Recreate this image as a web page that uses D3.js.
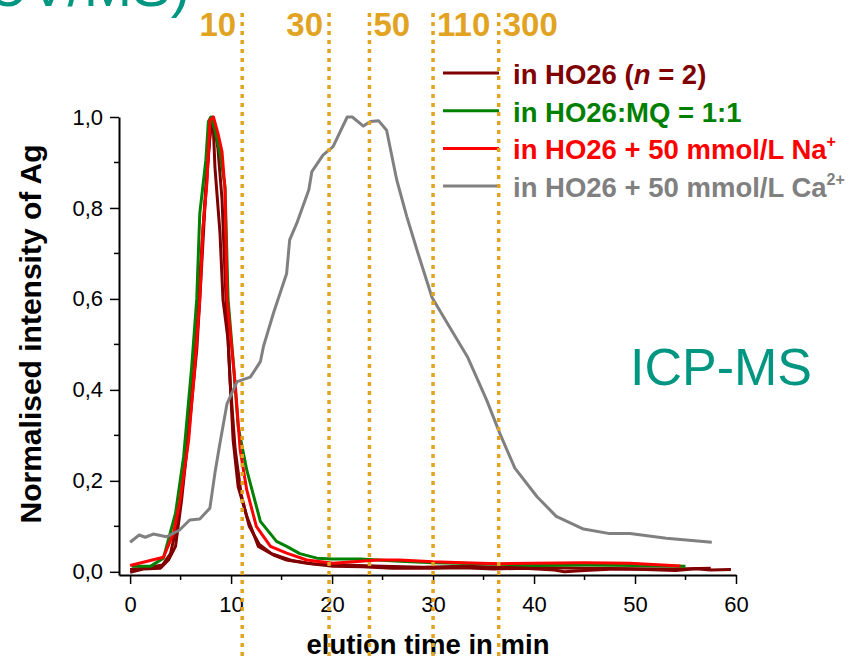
<!DOCTYPE html>
<html>
<head>
<meta charset="utf-8">
<script src="https://cdn.jsdelivr.net/npm/d3@7"></script>
<style>
body { margin: 0; background: #fff; }
text { font-family: "Liberation Sans", Arial, sans-serif; }
</style>
</head>
<body>
<div id="viz"></div>
<script>
// axis ticks
var timeTicks = [0, 10, 20, 30, 40, 50, 60];
var timeMinor = [5, 15, 25, 35, 45, 55];
var intensityTicks = [0, 0.2, 0.4, 0.6, 0.8, 1.0];
var intensityMinor = [0.1, 0.3, 0.5, 0.7, 0.9];

// size cut-off markers (kDa) at elution times
var cutoffTimes = [11.1, 19.7, 23.7, 30.0, 36.5];
var cutoffLabels = ["10", "30", "50", "110", "300"];

// series: [elution time in min, normalised intensity]
var hoRunA = [[0, -0.001], [1.3, 0.006], [3, 0.008], [3.8, 0.026], [4.5, 0.056], [5.1, 0.158], [5.8, 0.305],
  [6.6, 0.488], [6.9, 0.598], [7.4, 0.8], [7.9, 0.96], [8.2, 1.0], [8.4, 0.89], [8.9, 0.745], [9.2, 0.598],
  [9.7, 0.51], [10.2, 0.29], [10.7, 0.187], [11.55, 0.122], [12.7, 0.056], [14.2, 0.037], [15.5, 0.026],
  [17.5, 0.019], [20.1, 0.012], [23, 0.011], [26, 0.008], [30, 0.008], [33, 0.009], [36, 0.006], [39, 0.008],
  [42, 0.004], [43, 0.0], [45, 0.003], [48, 0.006], [51, 0.005], [54, 0.003], [56, 0.007], [57.5, 0.004], [59.5, 0.005]];
var hoRunB = [[0, 0.005], [1.5, 0.008], [3.2, 0.015], [4, 0.04], [4.8, 0.12], [5.5, 0.25], [6.3, 0.44],
  [7.0, 0.68], [7.6, 0.88], [8.0, 0.98], [8.3, 0.99], [8.7, 0.93], [9.1, 0.82], [9.5, 0.6], [9.9, 0.42],
  [10.4, 0.27], [11, 0.17], [11.8, 0.1], [12.8, 0.06], [14, 0.04], [16, 0.025], [18, 0.018], [21, 0.015],
  [25, 0.012], [29, 0.01], [33, 0.012], [37, 0.01], [41, 0.009], [45, 0.008], [50, 0.007], [54, 0.006], [57.5, 0.008]];
var hoMq = [[0.17, 0.012], [2.0, 0.012], [3.3, 0.03], [4.5, 0.129], [5.3, 0.253], [6.1, 0.451], [6.6, 0.6],
  [6.9, 0.788], [7.5, 0.905], [7.75, 0.99], [8.0, 1.0], [8.4, 0.971], [8.9, 0.92], [9.4, 0.847], [9.7, 0.6],
  [10.2, 0.466], [10.7, 0.319], [11.55, 0.224], [12.9, 0.111], [14.5, 0.067], [15.5, 0.056], [16.8, 0.04],
  [18.5, 0.03], [20, 0.028], [22.8, 0.028], [26.7, 0.023], [30, 0.02], [35, 0.018], [40, 0.014], [45, 0.015],
  [50, 0.014], [55, 0.012]];
var hoNa = [[0, 0.014], [3.3, 0.032], [4.3, 0.085], [4.95, 0.158], [5.8, 0.29], [6.4, 0.451], [6.9, 0.6],
  [7.2, 0.752], [7.6, 0.854], [7.9, 0.993], [8.25, 1.0], [8.7, 0.964], [9.1, 0.924], [9.4, 0.84], [9.6, 0.6],
  [10.4, 0.415], [10.9, 0.268], [11.55, 0.18], [12.5, 0.1], [13.9, 0.056], [15.5, 0.041], [17.5, 0.026],
  [20.1, 0.019], [22.8, 0.023], [24.5, 0.026], [26.7, 0.026], [30, 0.022], [33, 0.02], [36.6, 0.018],
  [40, 0.019], [45, 0.02], [49.5, 0.019], [54.5, 0.013]];
var hoCa = [[0, 0.065], [0.9, 0.081], [1.5, 0.076], [2.3, 0.083], [3.6, 0.077], [4.9, 0.092], [5.9, 0.114],
  [6.9, 0.116], [7.9, 0.14], [8.4, 0.217], [8.9, 0.283], [9.6, 0.37], [10.6, 0.418], [11.9, 0.428],
  [12.9, 0.462], [13.2, 0.495], [14.2, 0.569], [15.5, 0.656], [15.8, 0.73], [16.5, 0.766], [17.7, 0.84],
  [18.0, 0.88], [19.1, 0.916], [20.1, 0.935], [21.5, 1.0], [22.0, 1.0], [23.1, 0.98], [23.8, 0.99],
  [24.6, 0.992], [25.4, 0.971], [26.4, 0.862], [27.4, 0.781], [28.4, 0.708], [29.9, 0.603], [31.4, 0.547],
  [33.4, 0.473], [35.3, 0.378], [36.6, 0.305], [38.1, 0.228], [40.3, 0.165], [42.2, 0.122], [44.9, 0.094],
  [47.5, 0.084], [49.5, 0.084], [53.1, 0.074], [57.6, 0.065]];

var dotColor = '#e2a322';
var teal = '#009682';

var svg = d3.select('#viz').append('svg')
  .attr('width', 850)
  .attr('height', 659);

var x = d3.scaleLinear().domain([-1.1, 60]).range([119, 736]);
var y = d3.scaleLinear().domain([-0.007, 1]).range([575, 117]);

// cut off page title at the top
svg.append('text')
  .attr('x', 190).attr('y', 6)
  .attr('text-anchor', 'end')
  .attr('style', 'font-size: 58px; fill: ' + teal)
  .text('UV/MS)');

// axes
var fmt = function(d) { return d3.format('.1f')(d).replace('.', ','); };

var xAxis = svg.append('g')
  .attr('transform', 'translate(0,575)')
  .call(d3.axisBottom(x).tickValues(timeTicks).tickSize(9).tickSizeOuter(0).tickPadding(12));
var yAxis = svg.append('g')
  .attr('transform', 'translate(119,0)')
  .call(d3.axisLeft(y).tickValues(intensityTicks).tickFormat(fmt).tickSize(9).tickSizeOuter(0).tickPadding(7));

[xAxis, yAxis].forEach(function(a) {
  a.select('.domain').attr('stroke-width', 2);
  a.selectAll('.tick line').attr('stroke-width', 1.5);
  a.selectAll('.tick text').attr('style', 'font-size: 22px; font-family: "Liberation Sans", Arial, sans-serif; fill: #000');
});

svg.append('g').selectAll('line')
  .data(timeMinor).enter().append('line')
  .attr('x1', function(d) { return x(d); }).attr('x2', function(d) { return x(d); })
  .attr('y1', 575).attr('y2', 580)
  .attr('stroke', '#000').attr('stroke-width', 1.5);
svg.append('g').selectAll('line')
  .data(intensityMinor).enter().append('line')
  .attr('y1', function(d) { return y(d); }).attr('y2', function(d) { return y(d); })
  .attr('x1', 114).attr('x2', 119)
  .attr('stroke', '#000').attr('stroke-width', 1.5);

svg.append('text')
  .attr('x', 428).attr('y', 654)
  .attr('text-anchor', 'middle')
  .attr('style', 'font-size: 27.5px; font-weight: bold')
  .text('elution time in min');

svg.append('text')
  .attr('transform', 'translate(41,334) rotate(-90)')
  .attr('text-anchor', 'middle')
  .attr('style', 'font-size: 30px; font-weight: bold')
  .text('Normalised intensity of Ag');

// curves
var line = d3.line()
  .x(function(d) { return x(d[0]); })
  .y(function(d) { return y(d[1]); });

var series = [
  { data: hoRunA, color: '#800000' },
  { data: hoRunB, color: '#800000' },
  { data: hoMq, color: '#008000' },
  { data: hoNa, color: '#ff0000' },
  { data: hoCa, color: '#808080' }
];
svg.append('g').selectAll('path')
  .data(series).enter().append('path')
  .attr('d', function(d) { return line(d.data); })
  .attr('fill', 'none')
  .attr('stroke', function(d) { return d.color; })
  .attr('stroke-width', 3)
  .attr('stroke-linejoin', 'round');

// legend
var legend = [
  { color: '#800000', parts: [['in HO26 (', ''], ['n', 'italic'], [' = 2)', '']] },
  { color: '#008000', parts: [['in HO26:MQ = 1:1', '']] },
  { color: '#ff0000', parts: [['in HO26 + 50 mmol/L Na', ''], ['+', 'sup']] },
  { color: '#808080', parts: [['in HO26 + 50 mmol/L Ca', ''], ['2+', 'sup']] }
];
var leg = svg.append('g');
legend.forEach(function(d, i) {
  var ly = 73 + i * 37.7;
  leg.append('line')
    .attr('x1', 443).attr('x2', 499).attr('y1', ly).attr('y2', ly)
    .attr('stroke', d.color).attr('stroke-width', 3);
  var t = leg.append('text')
    .attr('x', 513).attr('y', ly + 11)
    .attr('style', 'font-size: 27.5px; font-weight: bold; fill: ' + d.color);
  d.parts.forEach(function(p) {
    var s = t.append('tspan').text(p[0]);
    if (p[1] == 'italic') s.attr('font-style', 'italic');
    if (p[1] == 'sup') s.attr('font-size', '16px').attr('dy', -12);
  });
});

svg.append('text')
  .attr('x', 630).attr('y', 385)
  .attr('style', 'font-size: 52px; fill: ' + teal)
  .text('ICP-MS');

// dotted cut-off lines, drawn on top
svg.append('g').selectAll('line')
  .data(cutoffTimes).enter().append('line')
  .attr('x1', function(d) { return x(d); }).attr('x2', function(d) { return x(d); })
  .attr('y1', 13).attr('y2', 659)
  .attr('stroke', dotColor).attr('stroke-width', 3.5)
  .attr('stroke-dasharray', '4,5');

svg.append('g').selectAll('text')
  .data(cutoffLabels).enter().append('text')
  .attr('x', function(d, i) { return i < 2 ? x(cutoffTimes[i]) - 6 : x(cutoffTimes[i]) + 4; })
  .attr('y', 36)
  .attr('text-anchor', function(d, i) { return i < 2 ? 'end' : 'start'; })
  .attr('style', 'font-size: 33px; font-weight: bold; fill: ' + dotColor)
  .text(function(d) { return d; });
</script>
</body>
</html>
